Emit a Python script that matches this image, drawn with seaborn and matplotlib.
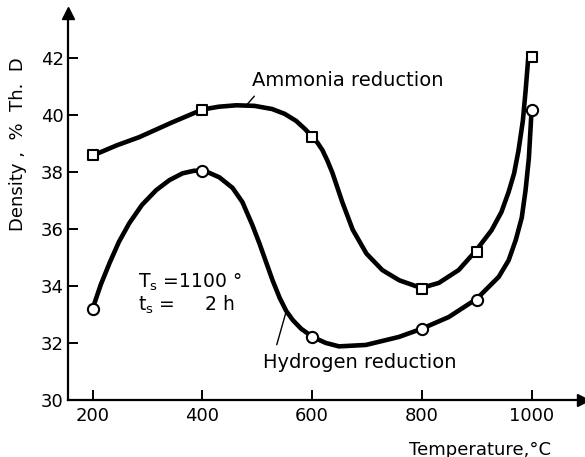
import matplotlib
matplotlib.use("Agg")
import matplotlib.pyplot as plt
import seaborn as sns

# measured points
temps = [200, 400, 600, 800, 900, 1000]
ammonia = [38.6, 40.2, 39.25, 33.9, 35.2, 42.05]
hydrogen = [33.2, 38.05, 32.2, 32.5, 33.5, 40.2]

# hand-drawn curves
ammonia_curve_t = [202, 245, 285, 345, 400, 430, 462, 495, 527, 550, 571, 588,
                   600, 610, 619, 628, 637, 655, 674, 699, 728, 759, 799, 831,
                   867, 898, 927, 945, 958, 968, 976, 984, 989, 994]
ammonia_curve_d = [38.6, 38.95, 39.23, 39.75, 40.2, 40.3, 40.35, 40.33, 40.22,
                   40.05, 39.8, 39.5, 39.25, 39.03, 38.77, 38.4, 37.98, 36.95,
                   35.98, 35.14, 34.56, 34.2, 33.93, 34.11, 34.56, 35.23, 35.96,
                   36.6, 37.3, 37.95, 38.75, 39.8, 40.85, 42.05]
hydrogen_curve_t = [200, 215, 231, 248, 267, 290, 316, 340, 364, 385, 404, 431,
                    455, 473, 491, 504, 516, 528, 541, 553, 565, 580, 601, 625,
                    649, 698, 758, 800, 849, 900, 940, 958, 971, 982, 989, 995,
                    1000]
hydrogen_curve_d = [33.2, 34.05, 34.81, 35.55, 36.21, 36.85, 37.37, 37.72, 37.96,
                    38.05, 38.05, 37.82, 37.45, 36.95, 36.15, 35.5, 34.85, 34.2,
                    33.58, 33.12, 32.8, 32.5, 32.21, 32.0, 31.88, 31.93, 32.21,
                    32.5, 32.91, 33.55, 34.32, 34.9, 35.61, 36.4, 37.37, 38.5,
                    40.2]

x_ticks = [200, 400, 600, 800, 1000]
y_ticks = [30, 32, 34, 36, 38, 40, 42]

sns.set_style("ticks")
plt.rcParams['font.family'] = ['DejaVu Sans']
for key in ["text.color", "axes.labelcolor", "xtick.color", "ytick.color",
            "axes.edgecolor"]:
    plt.rcParams[key] = "black"

fig = plt.figure(figsize=(5.85, 4.57), dpi=100)
ax = fig.add_axes([0.116, 0.125, 0.88, 0.847])

lw = 3.3
sns.lineplot(x=ammonia_curve_t, y=ammonia_curve_d, color="black", lw=lw,
             sort=False, ax=ax)
sns.lineplot(x=hydrogen_curve_t, y=hydrogen_curve_d, color="black", lw=lw,
             sort=False, ax=ax)
sns.scatterplot(x=temps, y=ammonia, marker="s", s=55, color="white",
                edgecolor="black", linewidth=1.5, zorder=5, ax=ax)
sns.scatterplot(x=temps, y=hydrogen, marker="o", s=65, color="white",
                edgecolor="black", linewidth=1.5, zorder=5, ax=ax)

ax.set_xlim(155, 1093)
ax.set_ylim(30, 43.6)
ax.set_xticks(x_ticks)
ax.set_yticks(y_ticks)
ax.tick_params(direction="in", length=7, width=1.4, labelsize=13)
ax.tick_params(axis="x", pad=5)
ax.tick_params(axis="y", pad=3)
sns.despine(ax=ax)
for s in ["left", "bottom"]:
    ax.spines[s].set_linewidth(1.6)

# arrow heads on the axes
ax.plot(1, 0, ">k", ms=9, transform=ax.transAxes, clip_on=False)
ax.plot(0, 1, "^k", ms=9, transform=ax.transAxes, clip_on=False)

ax.set_ylabel("Density ,  %  Th.  D", fontsize=13)
ax.yaxis.set_label_coords(-0.08, 0.66)
ax.set_xlabel("Temperature,°C", fontsize=13)
ax.xaxis.set_label_coords(0.80, -0.105)

# curve labels with leader lines
ax.annotate("Ammonia reduction", xy=(482, 40.39), xytext=(491, 41.23),
            fontsize=14, ha="left", va="center",
            arrowprops=dict(arrowstyle="-", color="black", lw=1,
                            shrinkA=3, shrinkB=0, relpos=(0.04, 0)))
ax.annotate("Hydrogen reduction", xy=(553, 33.12), xytext=(510, 31.3),
            fontsize=14, ha="left", va="center",
            arrowprops=dict(arrowstyle="-", color="black", lw=1,
                            shrinkA=4, shrinkB=0, relpos=(0.06, 1)))

ax.text(282, 34.14, r"T$_\mathregular{s}$ =1100 °", fontsize=13.5, va="center")
ax.text(282, 33.33, r"t$_\mathregular{s}$ =     2 h", fontsize=13.5, va="center")

fig.savefig("out.png", dpi=100)
